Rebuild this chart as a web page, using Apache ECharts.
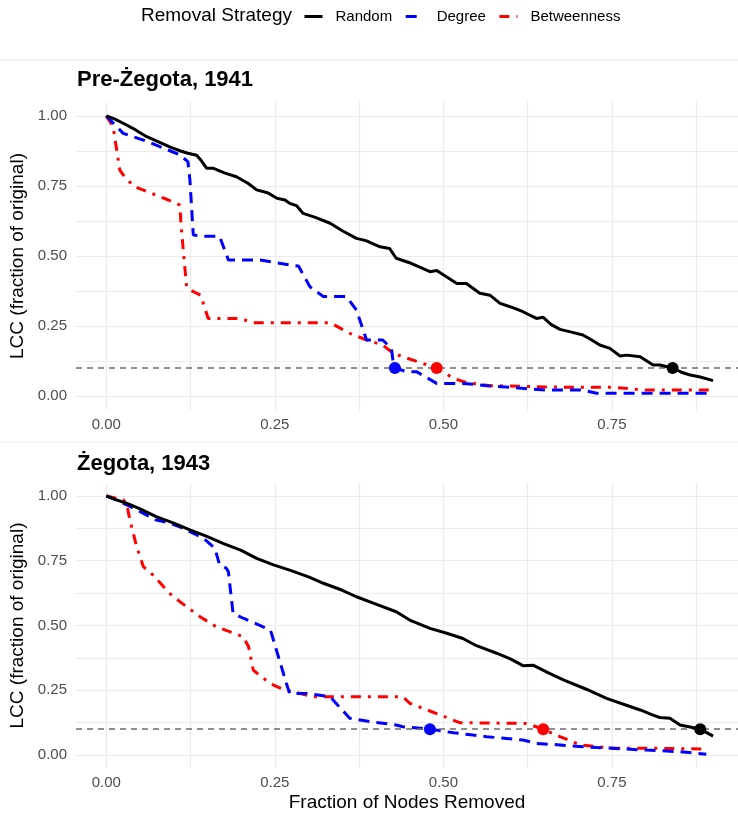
<!DOCTYPE html>
<html><head><meta charset="utf-8">
<script src="https://cdn.jsdelivr.net/npm/echarts@6/dist/echarts.min.js"></script>
<style>html,body{margin:0;padding:0;background:#fff}#c{width:738px;height:813px}</style>
</head><body><div id="c"></div>
<script>
// ---- data ----
const strategies = ['Random', 'Degree', 'Betweenness'];
const panelTitles = ['Pre-Żegota, 1941', 'Żegota, 1943'];
const xTicks = [0, 0.25, 0.5, 0.75];
const xGrid = [0, 0.125, 0.25, 0.375, 0.5, 0.625, 0.75, 0.875];
const yTicks = [0, 0.25, 0.5, 0.75, 1];
const yGrid = [0, 0.125, 0.25, 0.375, 0.5, 0.625, 0.75, 0.875, 1];
const threshold = 0.1;

// Pre-Żegota 1941
const random41X = [0,0.012,0.025,0.04,0.05,0.06,0.075,0.094,0.11,0.121,0.134,0.141,0.149,0.159,0.175,0.193,0.21,0.223,0.24,0.253,0.265,0.272,0.282,0.292,0.31,0.332,0.35,0.371,0.385,0.406,0.42,0.43,0.452,0.465,0.48,0.49,0.505,0.52,0.534,0.554,0.569,0.584,0.6,0.618,0.638,0.648,0.66,0.673,0.69,0.707,0.72,0.732,0.747,0.762,0.772,0.792,0.811,0.821,0.84,0.853,0.866,0.881,0.9];
const random41Y = [1,0.99,0.974,0.955,0.94,0.926,0.91,0.89,0.875,0.867,0.86,0.84,0.813,0.813,0.797,0.783,0.76,0.736,0.725,0.706,0.7,0.688,0.68,0.652,0.638,0.617,0.59,0.563,0.555,0.533,0.527,0.492,0.474,0.46,0.444,0.448,0.425,0.402,0.402,0.367,0.36,0.331,0.318,0.301,0.277,0.281,0.255,0.238,0.228,0.218,0.2,0.182,0.17,0.143,0.146,0.14,0.111,0.111,0.1,0.085,0.075,0.068,0.055];
const degree41X = [0,0.025,0.06,0.09,0.109,0.121,0.124,0.129,0.144,0.168,0.181,0.228,0.272,0.285,0.302,0.322,0.356,0.371,0.386,0.41,0.423,0.425,0.428,0.445,0.46,0.49,0.53,0.564,0.653,0.707,0.727,0.9];
const degree41Y = [1,0.938,0.91,0.88,0.861,0.837,0.771,0.575,0.571,0.57,0.486,0.486,0.468,0.464,0.39,0.355,0.355,0.307,0.2,0.2,0.17,0.129,0.1,0.087,0.087,0.045,0.045,0.037,0.021,0.021,0.01,0.01];
const betw41X = [0,0.01,0.02,0.025,0.04,0.092,0.109,0.111,0.119,0.124,0.14,0.151,0.198,0.218,0.332,0.361,0.386,0.41,0.426,0.44,0.49,0.515,0.534,0.569,0.683,0.752,0.801,0.9];
const betw41Y = [1,0.962,0.807,0.79,0.75,0.7,0.682,0.605,0.39,0.379,0.36,0.277,0.277,0.262,0.262,0.224,0.2,0.182,0.152,0.14,0.1,0.063,0.048,0.037,0.031,0.031,0.021,0.021];
const crit41X = [0.84, 0.428, 0.49];

// Żegota 1943
const random43X = [0,0.015,0.03,0.05,0.074,0.1,0.124,0.15,0.173,0.2,0.223,0.248,0.272,0.3,0.322,0.35,0.371,0.396,0.43,0.45,0.48,0.505,0.529,0.549,0.579,0.6,0.618,0.633,0.655,0.678,0.712,0.742,0.765,0.792,0.81,0.821,0.836,0.851,0.866,0.881,0.9];
const random43Y = [1,0.985,0.972,0.95,0.92,0.895,0.869,0.843,0.817,0.79,0.759,0.734,0.714,0.688,0.663,0.636,0.611,0.586,0.553,0.521,0.489,0.47,0.45,0.422,0.393,0.37,0.345,0.347,0.318,0.29,0.254,0.219,0.198,0.174,0.155,0.145,0.142,0.116,0.108,0.1,0.073];
const degree43X = [0,0.015,0.035,0.055,0.074,0.092,0.11,0.124,0.144,0.161,0.168,0.178,0.181,0.188,0.203,0.243,0.245,0.267,0.272,0.297,0.332,0.361,0.391,0.43,0.44,0.48,0.515,0.544,0.564,0.618,0.638,0.673,0.707,0.801,0.851,0.89];
const degree43Y = [1,0.984,0.96,0.933,0.907,0.897,0.88,0.862,0.837,0.798,0.734,0.721,0.708,0.547,0.528,0.483,0.469,0.277,0.238,0.238,0.225,0.142,0.129,0.116,0.109,0.1,0.086,0.077,0.071,0.058,0.045,0.039,0.032,0.019,0.013,0.003];
const betw43X = [0,0.025,0.03,0.035,0.045,0.055,0.069,0.094,0.109,0.139,0.163,0.203,0.211,0.218,0.233,0.248,0.262,0.307,0.44,0.45,0.505,0.524,0.623,0.648,0.673,0.703,0.752,0.821,0.89];
const betw43Y = [1,0.985,0.972,0.907,0.804,0.727,0.695,0.624,0.592,0.534,0.495,0.457,0.418,0.328,0.296,0.27,0.254,0.225,0.225,0.2,0.145,0.125,0.122,0.1,0.071,0.039,0.026,0.026,0.023];
const crit43X = [0.881, 0.48, 0.648];

// ---- build ----
const FONT = '"Liberation Sans", Arial, sans-serif';
const colors = ['#000000', '#0000ff', '#ff0000'];
const dashes = ['solid', [11, 7], [10, 7, 3, 7]];
const zip = (xs, ys) => xs.map((x, i) => [x, ys[i]]);
const panels = [
  { lines: [zip(random41X, random41Y), zip(degree41X, degree41Y), zip(betw41X, betw41Y)], crit: crit41X },
  { lines: [zip(random43X, random43Y), zip(degree43X, degree43Y), zip(betw43X, betw43Y)], crit: crit43X }
];
const gridBoxes = [{ top: 102, height: 308 }, { top: 483, height: 285 }];

const series = [];
panels.forEach((p, pi) => {
  p.lines.forEach((d, si) => {
    const s = {
      name: strategies[si], type: 'line', xAxisIndex: pi, yAxisIndex: pi,
      data: d, symbol: 'none', showSymbol: false, animation: false,
      lineStyle: { color: colors[si], width: 3, type: dashes[si] },
      itemStyle: { color: colors[si] }, z: 3 + (2 - si)
    };
    if (si === 0) {
      s.markLine = {
        silent: true, symbol: 'none', animation: false, label: { show: false },
        lineStyle: { color: '#6b6b6b', width: 1.6, type: [6, 5] },
        data: [{ yAxis: threshold }]
      };
    }
    series.push(s);
  });
  series.push({
    type: 'scatter', xAxisIndex: pi, yAxisIndex: pi, symbolSize: 12, z: 10, animation: false,
    data: p.crit.map((x, i) => ({ value: [x, threshold], itemStyle: { color: colors[i], opacity: 1 } }))
  });
});

const xAxes = gridBoxes.map((g, i) => ({
  gridIndex: i, type: 'value', min: -0.045, max: 0.937,
  axisLine: { show: false }, axisTick: { show: false, customValues: xGrid },
  axisLabel: { customValues: xTicks, formatter: v => v.toFixed(2), color: '#4d4d4d', fontSize: 15, margin: 7, fontFamily: FONT },
  splitLine: { show: true, lineStyle: { color: '#ebebeb', width: 1.2 } },
  name: i === 1 ? 'Fraction of Nodes Removed' : '', nameLocation: 'middle', nameGap: 25,
  nameTextStyle: { color: '#000', fontSize: 19, fontFamily: FONT }
}));
const yAxes = gridBoxes.map((g, i) => ({
  gridIndex: i, type: 'value', min: -0.05, max: 1.05,
  axisLine: { show: false }, axisTick: { show: false, customValues: yGrid },
  axisLabel: { customValues: yTicks, formatter: v => v.toFixed(2), color: '#4d4d4d', fontSize: 15, margin: 9, fontFamily: FONT },
  splitLine: { show: true, lineStyle: { color: '#ebebeb', width: 1.2 } },
  name: 'LCC (fraction of original)', nameLocation: 'middle', nameRotate: 90, nameGap: 42,
  nameTextStyle: { color: '#000', fontSize: 19, fontFamily: FONT }
}));

const chart = echarts.init(document.getElementById('c'), null, { renderer: 'canvas' });
chart.setOption({
  backgroundColor: '#ffffff',
  animation: false,
  textStyle: { fontFamily: FONT },
  title: [
    { text: panelTitles[0], left: 77, top: 69, padding: 0, textStyle: { fontSize: 22, fontWeight: 'bold', color: '#000', fontFamily: FONT } },
    { text: panelTitles[1], left: 77, top: 453, padding: 0, textStyle: { fontSize: 22, fontWeight: 'bold', color: '#000', fontFamily: FONT } }
  ],
  legend: {
    data: strategies, left: 303, top: 9, padding: 0, itemWidth: 18, itemHeight: 14, itemGap: 12,
    textStyle: { fontSize: 15, color: '#000', fontFamily: FONT, padding: [0, 0, 0, 8] },
    itemStyle: { opacity: 0 },
    lineStyle: { width: 3 }
  },
  graphic: [
    { type: 'text', left: 141, top: 6, style: { text: 'Removal Strategy', fontSize: 19, fill: '#000', fontFamily: FONT } },
    { type: 'line', shape: { x1: 0, y1: 60, x2: 738, y2: 60 }, style: { stroke: '#ececec', lineWidth: 1 }, silent: true },
    { type: 'line', shape: { x1: 0, y1: 442, x2: 738, y2: 442 }, style: { stroke: '#ececec', lineWidth: 1 }, silent: true }
  ],
  grid: gridBoxes.map(g => ({ left: 76, right: 0, top: g.top, height: g.height, containLabel: false, outerBoundsMode: 'none' })),
  xAxis: xAxes,
  yAxis: yAxes,
  series: series
});
</script>
</body></html>
